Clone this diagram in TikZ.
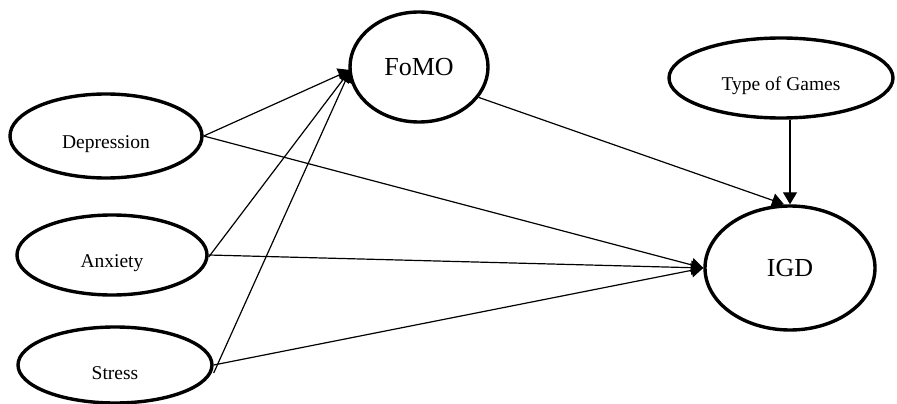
\documentclass[tikz,border=0pt]{standalone}
\usepackage{fontspec}
\setmainfont{Liberation Serif}
\usetikzlibrary{shapes.geometric,arrows.meta}
\begin{document}
\begin{tikzpicture}[x=1pt,y=-1pt,
  oval/.style={ellipse,draw,line width=3.4pt,inner sep=0pt},
  small/.style={font=\fontsize{19.5}{22}\selectfont,yshift=-8pt},
  big/.style={font=\fontsize{26}{30}\selectfont},
  conn/.style={line width=1.2pt,-{Triangle[length=12pt,width=14pt]}}]
\useasboundingbox (0,0) rectangle (897,404);
\node[oval,minimum width=192pt,minimum height=84pt,label={[small]center:Depression}] (dep) at (106,136) {};
\node[oval,minimum width=190pt,minimum height=80pt,label={[small]center:Anxiety}] (anx) at (112,255) {};
\node[oval,minimum width=194pt,minimum height=76pt,label={[small]center:Stress}] (str) at (115,365) {};
\node[oval,minimum width=138pt,minimum height=110pt,big] (fomo) at (419,67) {FoMO};
\node[oval,minimum width=224pt,minimum height=80pt,label={[small]center:Type of Games}] (tog) at (781,78) {};
\node[oval,minimum width=170pt,minimum height=124pt,big] (igd) at (790,268) {IGD};
\coordinate (fin) at ([xshift=2pt,yshift=-3pt]fomo.west);
\coordinate (gin) at ([xshift=-6pt]igd.north);
\coordinate (tout) at (igd.north |- tog.south);
\draw[conn] (dep.east) -- (fin);
\draw[conn] ([yshift=-2pt]anx.east) -- (fin);
\draw[conn] ([yshift=-8pt]str.east) -- (fin);
\draw[conn] (dep.east) -- (igd.west);
\draw[conn] (anx.east) -- (igd.west);
\draw[conn] (str.east) -- (igd.west);
\draw[conn] (fomo.-27) -- (gin);
\draw[conn] (tout) -- (igd.north);
\end{tikzpicture}
\end{document}
